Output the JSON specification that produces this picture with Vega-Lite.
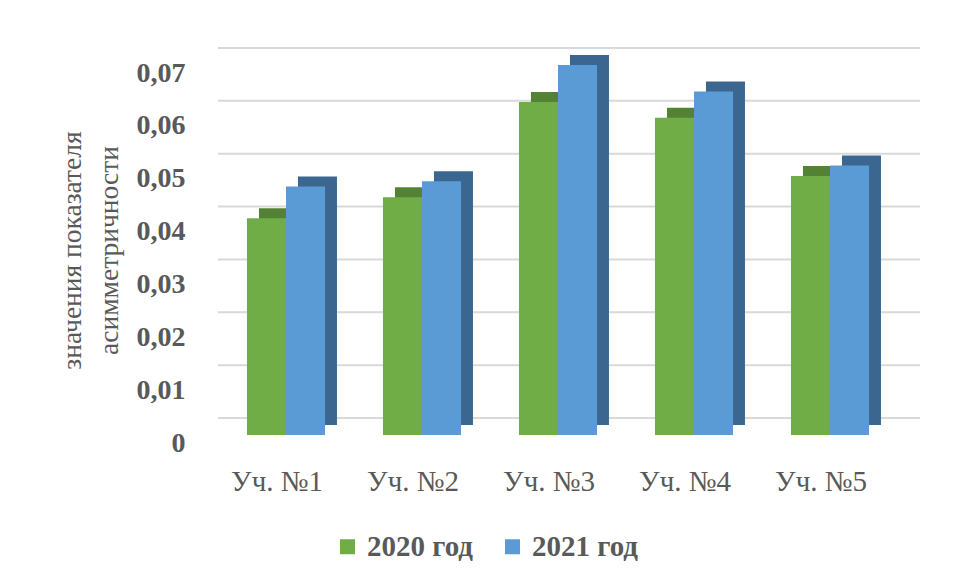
{
  "$schema": "https://vega.github.io/schema/vega-lite/v6.json",
  "width": 680,
  "height": 370,
  "autosize": {"type": "none"},
  "padding": {"left": 218, "top": 65, "right": 59, "bottom": 145},
  "background": "white",
  "config": {"view": {"stroke": null}, "font": "Liberation Serif"},
  "datasets": {
    "bars": [
      {"site": "Уч. №1", "year": "2020 год", "value": 0.041},
      {"site": "Уч. №1", "year": "2021 год", "value": 0.047},
      {"site": "Уч. №2", "year": "2020 год", "value": 0.045},
      {"site": "Уч. №2", "year": "2021 год", "value": 0.048},
      {"site": "Уч. №3", "year": "2020 год", "value": 0.063},
      {"site": "Уч. №3", "year": "2021 год", "value": 0.070},
      {"site": "Уч. №4", "year": "2020 год", "value": 0.060},
      {"site": "Уч. №4", "year": "2021 год", "value": 0.065},
      {"site": "Уч. №5", "year": "2020 год", "value": 0.049},
      {"site": "Уч. №5", "year": "2021 год", "value": 0.051}
    ],
    "grid": [
      {"value": 0}, {"value": 0.01}, {"value": 0.02}, {"value": 0.03},
      {"value": 0.04}, {"value": 0.05}, {"value": 0.06}, {"value": 0.07}
    ]
  },
  "encoding": {
    "y": {
      "field": "value", "type": "quantitative", "scale": {"domain": [0, 0.07]},
      "axis": {
        "title": ["значения показателя", "асимметричности"],
        "titleFontSize": 27.5, "titleFontWeight": "normal", "titleColor": "#595959",
        "titleLineHeight": 37, "titleAngle": -90, "titleX": -160, "titleBaseline": "top",
        "domain": false, "ticks": false, "grid": false,
        "values": [0, 0.01, 0.02, 0.03, 0.04, 0.05, 0.06, 0.07],
        "labelExpr": "datum.value == 0 ? '0' : replace(format(datum.value, '.2f'), '.', ',')",
        "labelFontSize": 28, "labelFontWeight": "bold", "labelColor": "#595959",
        "labelPadding": 33, "labelOffset": 8
      }
    }
  },
  "layer": [
    {
      "data": {"name": "grid"},
      "mark": {"type": "rule", "color": "#D9D9D9", "strokeWidth": 2, "xOffset": 22, "yOffset": -17}
    },
    {
      "data": {"name": "bars"},
      "mark": {"type": "bar", "yOffset": -10},
      "encoding": {
        "x": {
          "field": "site", "type": "nominal",
          "scale": {"paddingInner": 0.426, "paddingOuter": 0.213},
          "axis": {
            "title": null, "domain": false, "ticks": false, "labelAngle": 0,
            "labelFontSize": 29, "labelColor": "#595959", "labelPadding": 32, "labelOffset": -9,
            "labelBaseline": "top"
          }
        },
        "xOffset": {"field": "year", "type": "nominal", "scale": {"range": [12, 90]}},
        "color": {"field": "year", "type": "nominal", "scale": {"range": ["#548235", "#3A6690"]}, "legend": null}
      }
    },
    {
      "data": {"name": "bars"},
      "mark": {"type": "bar"},
      "encoding": {
        "x": {
          "field": "site", "type": "nominal",
          "scale": {"paddingInner": 0.426, "paddingOuter": 0.213},
          "axis": {
            "title": null, "domain": false, "ticks": false, "labelAngle": 0,
            "labelFontSize": 29, "labelColor": "#595959", "labelPadding": 32, "labelOffset": -9,
            "labelBaseline": "top"
          }
        },
        "xOffset": {"field": "year", "type": "nominal"},
        "color": {
          "field": "year", "type": "nominal",
          "scale": {"range": ["#70AD47", "#5B9BD5"]},
          "legend": {
            "title": null, "orient": "none", "direction": "horizontal",
            "legendX": 115, "legendY": 467,
            "symbolType": "square", "symbolSize": 225, "symbolStrokeWidth": 0,
            "labelFontSize": 29, "labelFontWeight": "bold", "labelColor": "#595959",
            "labelOffset": 5, "columnPadding": 24
          }
        }
      }
    }
  ],
  "resolve": {"scale": {"color": "independent", "xOffset": "independent"}}
}
